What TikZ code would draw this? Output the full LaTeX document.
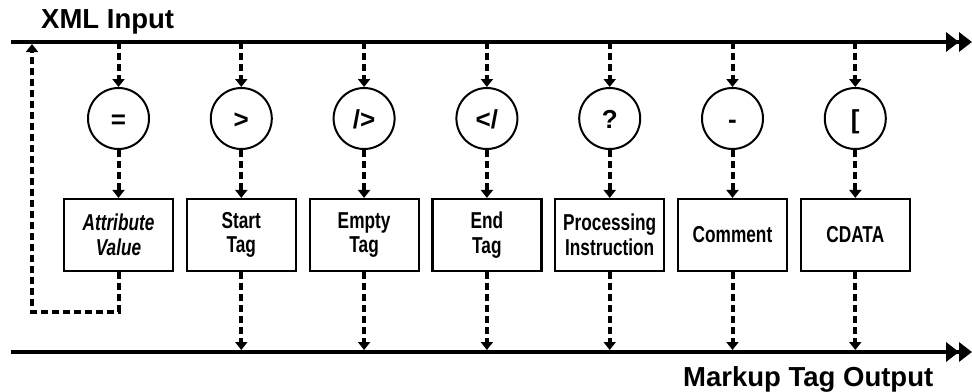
\documentclass[tikz,border=0pt]{standalone}
\usepackage{fontspec}
\setmainfont{Liberation Sans}
\newfontfamily\narrowfont{Liberation Sans}[FakeStretch=0.75]
\usetikzlibrary{arrows.meta,calc}
\begin{document}
\begin{tikzpicture}[x=1pt,y=-1pt,
  sym/.style={circle, draw, line width=2pt, minimum size=61pt, inner sep=0pt,
    text height=19pt, text depth=0pt,
    font=\fontsize{26}{28}\selectfont\bfseries},
  blk/.style={draw, line width=2.2pt, minimum width=109pt, minimum height=72pt,
    inner sep=0pt, align=center, font=\narrowfont\fontsize{23}{24.5}\selectfont\bfseries},
  flow/.style={line width=4pt, dash pattern=on 7pt off 4pt,
    -{Triangle[width=12pt,length=8pt]}},
  bus/.style={line width=4pt, -{Triangle[width=19pt,length=13pt]Triangle[width=19pt,length=13pt]}},
  title/.style={inner sep=0pt, font=\fontsize{27.5}{30}\selectfont\bfseries}]
\useasboundingbox (0,0) rectangle (972,391);

\coordinate (inL) at (11,42);
\coordinate (inR) at (972,42);
\coordinate (outL) at (11,352);
\coordinate (outR) at (972,352);
\draw[bus] (inL) -- (inR);
\draw[bus] (outL) -- (outR);

\node[title, anchor=base west] (tin) at (41,28) {XML Input};
\node[title, anchor=base west] (tout) at (683,386) {Markup Tag Output};

\foreach \i/\s/\t in {1/{=}/{\itshape Attribute\\\itshape Value},
                      2/{>}/{Start\\Tag},
                      3/{/>}/{Empty\\Tag},
                      4/{</}/{End\\Tag},
                      5/{?}/{Processing\\Instruction},
                      6/{-}/{Comment},
                      7/{[}/{CDATA}} {
  \node[sym] (c\i) at ({118.5+122.8*(\i-1)},118.5) {\s};
  \node[blk] (b\i) at ({118.5+122.8*(\i-1)},235) {\t};
  \draw[flow] (c\i |- inL) -- (c\i.north);
  \draw[flow] (c\i.south) -- (b\i.north);
}
\foreach \i in {2,...,7} {
  \draw[flow, shorten >=2pt] (b\i.south) -- (b\i |- outL);
}
\coordinate (fb) at (32,312);
\draw[flow, shorten >=2pt] (b1.south) |- (fb) -- (fb |- inL);
\end{tikzpicture}
\end{document}
